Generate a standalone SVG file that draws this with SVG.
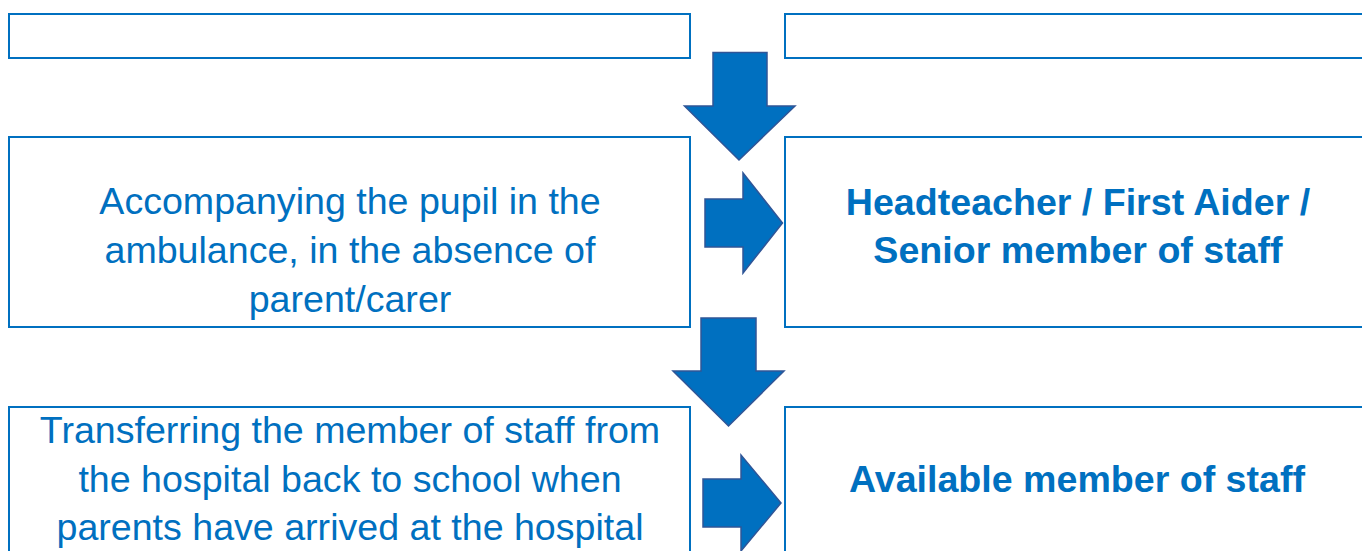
<svg xmlns="http://www.w3.org/2000/svg" width="1362" height="551" viewBox="0 0 1362 551">
<style>
.box{fill:#FFFFFF;stroke:#0070C0;stroke-width:2}
.arr{fill:#0070C0;stroke:#2F5597;stroke-width:1.5;stroke-linejoin:miter}
.t{font-family:"Liberation Sans",Arial,sans-serif;font-size:37.6px;fill:#0070C0;text-anchor:middle}
.b{font-weight:bold}
</style>
<rect width="1362" height="551" fill="#FFFFFF"/>
<g id="box-top-left"><rect class="box" x="9" y="14" width="681" height="44"/></g>
<g id="box-top-right"><rect class="box" x="785" y="14" width="590" height="44"/></g>
<g id="box-mid-left"><rect class="box" x="9" y="137" width="681" height="190"/>
<text class="t" x="350" y="214">Accompanying the pupil in the</text>
<text class="t" x="350" y="263">ambulance, in the absence of</text>
<text class="t" x="350" y="312">parent/carer</text></g>
<g id="box-mid-right"><rect class="box" x="785" y="137" width="590" height="190"/>
<text class="t b" x="1078" y="215">Headteacher / First Aider /</text>
<text class="t b" x="1078" y="263">Senior member of staff</text></g>
<g id="box-bot-left"><rect class="box" x="9" y="407" width="681" height="160"/>
<text class="t" x="350" y="443">Transferring the member of staff from</text>
<text class="t" x="350" y="492">the hospital back to school when</text>
<text class="t" x="350" y="540">parents have arrived at the hospital</text></g>
<g id="box-bot-right"><rect class="box" x="785" y="407" width="590" height="160"/>
<text class="t b" x="1077" y="492">Available member of staff</text></g>
<g id="connectors">
<polygon class="arr" points="713,52.5 767,52.5 767,106 795,106 739,160 684.5,106 713,106"/>
<polygon class="arr" points="705,199 743,199 743,173 782.5,223 743,273 743,247 705,247"/>
<polygon class="arr" points="701,318 756,318 756,371 784,371 728.5,426 673,371 701,371"/>
<polygon class="arr" points="703,479 741,479 741,455 781,503 741,551 741,527 703,527"/>
</g>
</svg>
